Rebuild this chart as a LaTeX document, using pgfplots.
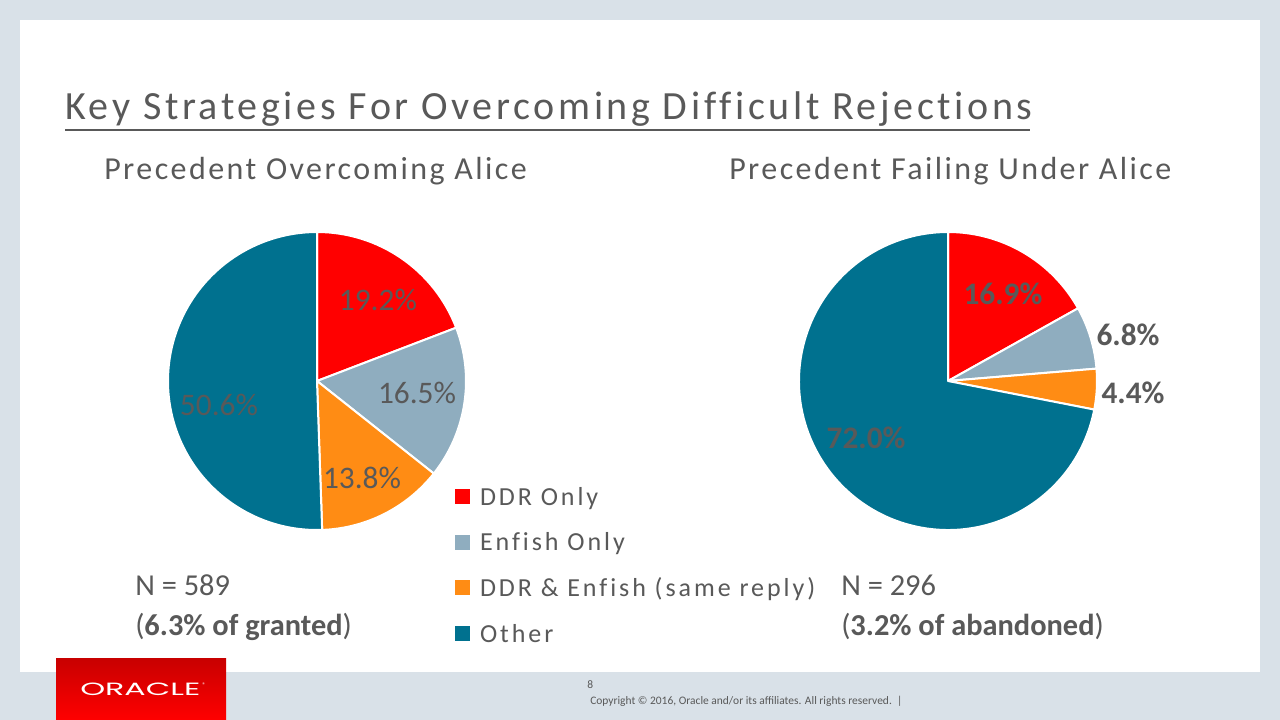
\documentclass[border=0pt]{standalone}
\usepackage{pgfplots}
\pgfplotsset{compat=1.18}
\usepackage{pgfplotstable}
\usepackage{fontspec}
\setmainfont{Carlito}
\newfontfamily\titlefam{Carlito}[LetterSpace=9.1, Ligatures=NoCommon]
\newfontfamily\subfam{Carlito}[LetterSpace=7.6, Ligatures=NoCommon]
\newfontfamily\legfam{Carlito}[LetterSpace=11.3, Ligatures=NoCommon]
\newfontfamily\logofont{Poppins}

\definecolor{slidebg}{HTML}{D9E1E8}
\definecolor{txt}{HTML}{595959}
\definecolor{ddr}{HTML}{FF0000}
\definecolor{enfish}{HTML}{8FADBF}
\definecolor{both}{HTML}{FF8C14}
\definecolor{other}{HTML}{00718F}
\definecolor{logotop}{HTML}{C80000}
\definecolor{logobot}{HTML}{FF0000}

\newcommand\titlef{\titlefam\fontsize{30pt}{36pt}\selectfont}
\newcommand\subf{\subfam\fontsize{24pt}{29pt}\selectfont}
\newcommand\legf{\legfam\fontsize{19.5pt}{23pt}\selectfont}
\newcommand\labf{\fontsize{23.5pt}{28pt}\selectfont}
\newcommand\nf{\fontsize{22.8pt}{27pt}\selectfont}

% shares of each pie, clockwise from 12 o'clock
\pgfplotstableread{
share colour
19.2 ddr
16.5 enfish
13.8 both
50.6 other
}\overcoming
\pgfplotstableread{
share colour
16.9 ddr
6.8 enfish
4.4 both
72.0 other
}\failing

\def\pieR{111.75pt}
\newcommand\pieslice[3]{% share, colour, total
  \pgfmathsetmacro\degper{360/#3}%
  \pgfmathsetmacro\sa{90-\cum*\degper}%
  \pgfmathsetmacro\newcum{\cum+#1}%
  \xdef\cum{\newcum}%
  \pgfmathsetmacro\ea{90-\cum*\degper}%
  \edef\tmp{\noexpand\filldraw[fill=#2, draw=white, line width=1.5pt, line join=round]
    (axis cs:0,0) -- ([shift={(\sa:\pieR)}]axis cs:0,0)
    arc[start angle=\sa, end angle=\ea, radius=\pieR] -- cycle;}%
  \tmp}
\newcommand\drawpie[2]{% table, total
  \xdef\cum{0}%
  \pgfplotsinvokeforeach{0,1,2,3}{%
    \pgfplotstablegetelem{##1}{share}\of#1\let\slshare\pgfplotsretval
    \pgfplotstablegetelem{##1}{colour}\of#1\let\slcol\pgfplotsretval
    \pieslice{\slshare}{\slcol}{#2}}}

\pgfplotsset{pie axis/.style={scale only axis, width=223.5pt, height=223.5pt,
  xmin=-1, xmax=1, ymin=-1, ymax=1, hide axis, clip=false, anchor=center}}

\begin{document}
\begin{tikzpicture}
\begin{scope}[x=0.75pt, y=-0.75pt]
  \fill[slidebg] (0,0) rectangle (1280,720);
  \fill[white] (20,20) rectangle (1260,672);
  \node[anchor=base west, inner sep=0pt, font=\titlef, text=txt] at (65,120)
    {Key Strategies For Overcoming Difficult Rejections};
  \draw[txt, line width=1.9pt] (65,130) -- (1030,130);
  \node[anchor=base west, inner sep=0pt, font=\subf, text=txt] at (104,180)
    {Precedent Overcoming Alice};
  \node[anchor=base west, inner sep=0pt, font=\subf, text=txt] at (729,180)
    {Precedent Failing Under Alice};
  \node[anchor=base west, inner sep=0pt, font=\nf, text=txt] at (135,595) {N = 589};
  \node[anchor=base west, inner sep=0pt, font=\nf, text=txt] at (135,635)
    {(\textbf{6.3\% of granted})};
  \node[anchor=base west, inner sep=0pt, font=\nf, text=txt] at (841,595) {N = 296};
  \node[anchor=base west, inner sep=0pt, font=\nf, text=txt] at (841,635)
    {(\textbf{3.2\% of abandoned})};
  \shade[top color=logotop, bottom color=logobot] (56,658) rectangle (226,720);
  \node[anchor=base west, inner sep=0pt, text=white] at (80,695)
    {\resizebox{90pt}{9.4pt}{\logofont ORACLE}};
  \node[anchor=base west, inner sep=0pt, text=white, font=\fontsize{5pt}{6pt}\selectfont]
    at (202,687) {\textregistered};
  \node[anchor=base west, inner sep=0pt, text=txt, font=\fontsize{8.6pt}{10pt}\selectfont]
    at (587,688) {8};
  \node[anchor=base west, inner sep=0pt, text=txt, font=\fontsize{8.6pt}{10pt}\selectfont]
    at (590,704) {Copyright \textcopyright{} 2016, Oracle and/or its affiliates. All rights reserved.\ \ |};
\end{scope}

\begin{axis}[pie axis, at={(237.75pt,-285.75pt)},
  legend style={at={(0.9631,0.151)}, anchor=north west, draw=none, fill=none,
    inner sep=0pt, outer sep=0pt, row sep=14.25pt, font=\legf, text=txt,
    nodes={inner sep=0pt, text height=15pt, text depth=5pt},
    /tikz/every odd column/.style={column sep=7.5pt}},
  legend cell align=left,
  legend image code/.code={\fill[#1, draw=none] (0pt,-4.25pt) rectangle (11.25pt,7pt);}]
  \drawpie{\overcoming}{100.1}
  \addlegendimage{fill=ddr}\addlegendentry{DDR Only}
  \addlegendimage{fill=enfish}\addlegendentry{Enfish Only}
  \addlegendimage{fill=both}\addlegendentry{DDR \& Enfish (same reply)}
  \addlegendimage{fill=other}\addlegendentry{Other}
  \node[font=\labf, text=txt] at (axis cs:0.409,0.544) {19.2\%};
  \node[font=\labf, text=txt] at (axis cs:0.671,-0.081) {16.5\%};
  \node[font=\labf, text=txt] at (axis cs:0.302,-0.651) {13.8\%};
  \node[font=\labf, text=txt] at (axis cs:-0.658,-0.161) {50.6\%};
\end{axis}

\begin{axis}[pie axis, at={(711pt,-285.75pt)}]
  \drawpie{\failing}{100.1}
  \node[font=\labf\bfseries, text=txt] at (axis cs:0.369,0.584) {16.9\%};
  \node[font=\labf\bfseries, text=txt] at (axis cs:1.208,0.309) {6.8\%};
  \node[font=\labf\bfseries, text=txt] at (axis cs:1.242,-0.081) {4.4\%};
  \node[font=\labf\bfseries, text=txt] at (axis cs:-0.550,-0.383) {72.0\%};
\end{axis}

\pgfresetboundingbox
\path (0pt,0pt) rectangle (960pt,-540pt);
\end{tikzpicture}
\end{document}
